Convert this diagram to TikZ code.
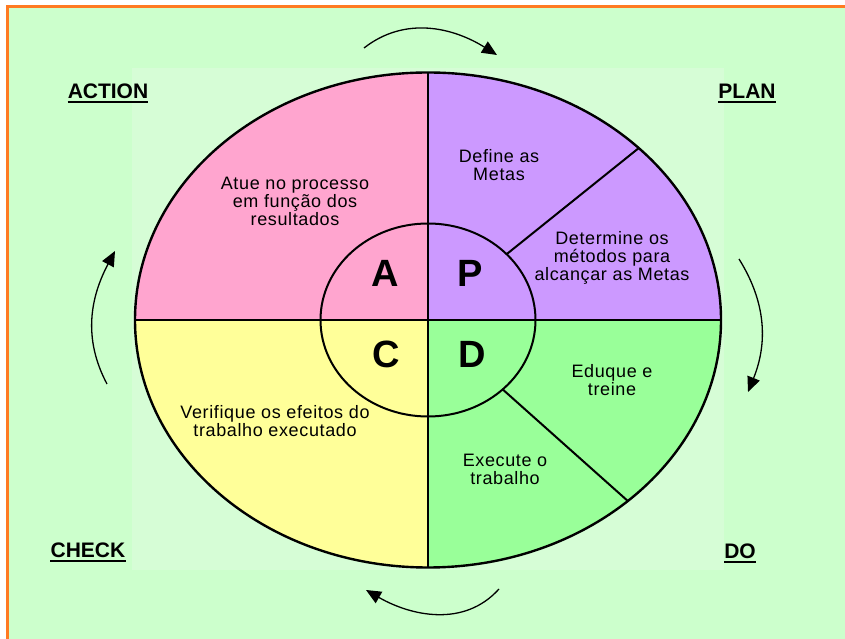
\documentclass[tikz,border=0pt]{standalone}
\usepackage{fontspec}
\setmainfont{Liberation Sans}
\newfontfamily\bodyfont[LetterSpace=3.5]{Liberation Sans}
\usetikzlibrary{calc,arrows.meta}
\definecolor{framebg}{HTML}{CCFFCC}
\definecolor{innerbg}{HTML}{D6FDD6}
\definecolor{frameline}{HTML}{FF7A22}
\definecolor{actfill}{HTML}{FFA5CF}
\definecolor{planfill}{HTML}{CC99FF}
\definecolor{checkfill}{HTML}{FFFF99}
\definecolor{dofill}{HTML}{99FF99}

\begin{document}
\begin{tikzpicture}[x=1pt,y=1pt]

\tikzstyle{txt}=[align=center,inner sep=0pt,font=\bodyfont\fontsize{18}{18}\selectfont]
\tikzstyle{cornerlbl}=[inner sep=0pt,anchor=base,font=\bfseries\fontsize{21}{21}\selectfont]
\tikzstyle{bigletter}=[inner sep=0pt,anchor=base,font=\bfseries\fontsize{38}{38}\selectfont]
\tikzstyle{cyc}=[line width=1.3pt,-{Triangle[length=15pt,width=13pt]}]
\tikzstyle{rim}=[line width=2.4pt]

% radii of the two ellipses
\def\rx{293}\def\ry{247.5}
\def\irx{107.5}\def\iry{96.5}

\useasboundingbox (0,0) rectangle (845,639);
\fill[white] (0,0) rectangle (845,639);
\fill[framebg] (7,0) rectangle (845,632);
\draw[frameline,line width=3pt] (7,-5) -- (7,632) -- (850,632);
\fill[innerbg] (132,69) rectangle (724,571);

\coordinate (centre) at (428,319);

% quadrants
\fill[actfill] (centre) -- ++(-\rx,0) arc[start angle=180,end angle=90,x radius=\rx,y radius=\ry] -- cycle;
\fill[planfill] (centre) -- ++(0,\ry) arc[start angle=90,end angle=0,x radius=\rx,y radius=\ry] -- cycle;
\fill[dofill] (centre) -- ++(\rx,0) arc[start angle=0,end angle=-90,x radius=\rx,y radius=\ry] -- cycle;
\fill[checkfill] (centre) -- ++(0,-\ry) arc[start angle=270,end angle=180,x radius=\rx,y radius=\ry] -- cycle;

\draw[rim] (centre) ellipse[x radius=\rx,y radius=\ry];
\draw[line width=2pt] (centre) ellipse[x radius=\irx,y radius=\iry];
\draw[line width=2.8pt] ($(centre)+(-\rx,0)$) -- ($(centre)+(\rx,0)$);
\draw[line width=2.8pt] ($(centre)+(0,\ry)$) -- ($(centre)+(0,-\ry)$);

% dividers inside P and D
\draw[line width=2pt] ($(centre)+(43:{\irx} and {\iry})$) -- ($(centre)+(44:{\rx} and {\ry})$);
\draw[line width=2pt] ($(centre)+(-46:{\irx} and {\iry})$) -- ($(centre)+(-47:{\rx} and {\ry})$);

% letters
\node[bigletter] (letterA) at (385,352) {A};
\node[bigletter] (letterP) at (470.5,352) {P};
\node[bigletter] (letterC) at (386,271) {C};
\node[bigletter] (letterD) at (472,271) {D};

% texts
\node[txt] (actText) at (295,438) {Atue no processo\\em função dos\\resultados};
\node[txt] (goalText) at (499,474) {Define as\\Metas};
\node[txt] (methodText) at (612,381) {Determine os\\métodos para\\alcançar as Metas};
\node[txt] (trainText) at (612,258.5) {Eduque e\\treine};
\node[txt] (runText) at (505,170) {Execute o\\trabalho};
\node[txt] (checkText) at (275,217.5) {Verifique os efeitos do\\trabalho executado};

% corner labels
\node[cornerlbl] (act) at (108,540) {ACTION};
\node[cornerlbl] (plan) at (747,540) {PLAN};
\node[cornerlbl] (check) at (88,81) {CHECK};
\node[cornerlbl] (do) at (740,80) {DO};
\foreach \n in {act,plan,check,do}
    \draw[line width=2pt] ([yshift=-2.8pt]\n.base west) -- ([yshift=-2.8pt]\n.base east);

% arrows
\coordinate (topStart) at (364,591);
\coordinate (topEnd) at (497,584);
\coordinate (rightStart) at (739,380);
\coordinate (rightEnd) at (748,247);
\coordinate (bottomStart) at (499,50);
\coordinate (bottomEnd) at (366,49);
\coordinate (leftStart) at (107,255);
\coordinate (leftEnd) at (115,388);
\draw[cyc] (topStart) to[out=38,in=148] (topEnd);
\draw[cyc] (rightStart) to[out=-58,in=68] (rightEnd);
\draw[cyc] (bottomStart) to[out=-132,in=-30] (bottomEnd);
\draw[cyc] (leftStart) to[out=118,in=-118] (leftEnd);
\end{tikzpicture}
\end{document}
